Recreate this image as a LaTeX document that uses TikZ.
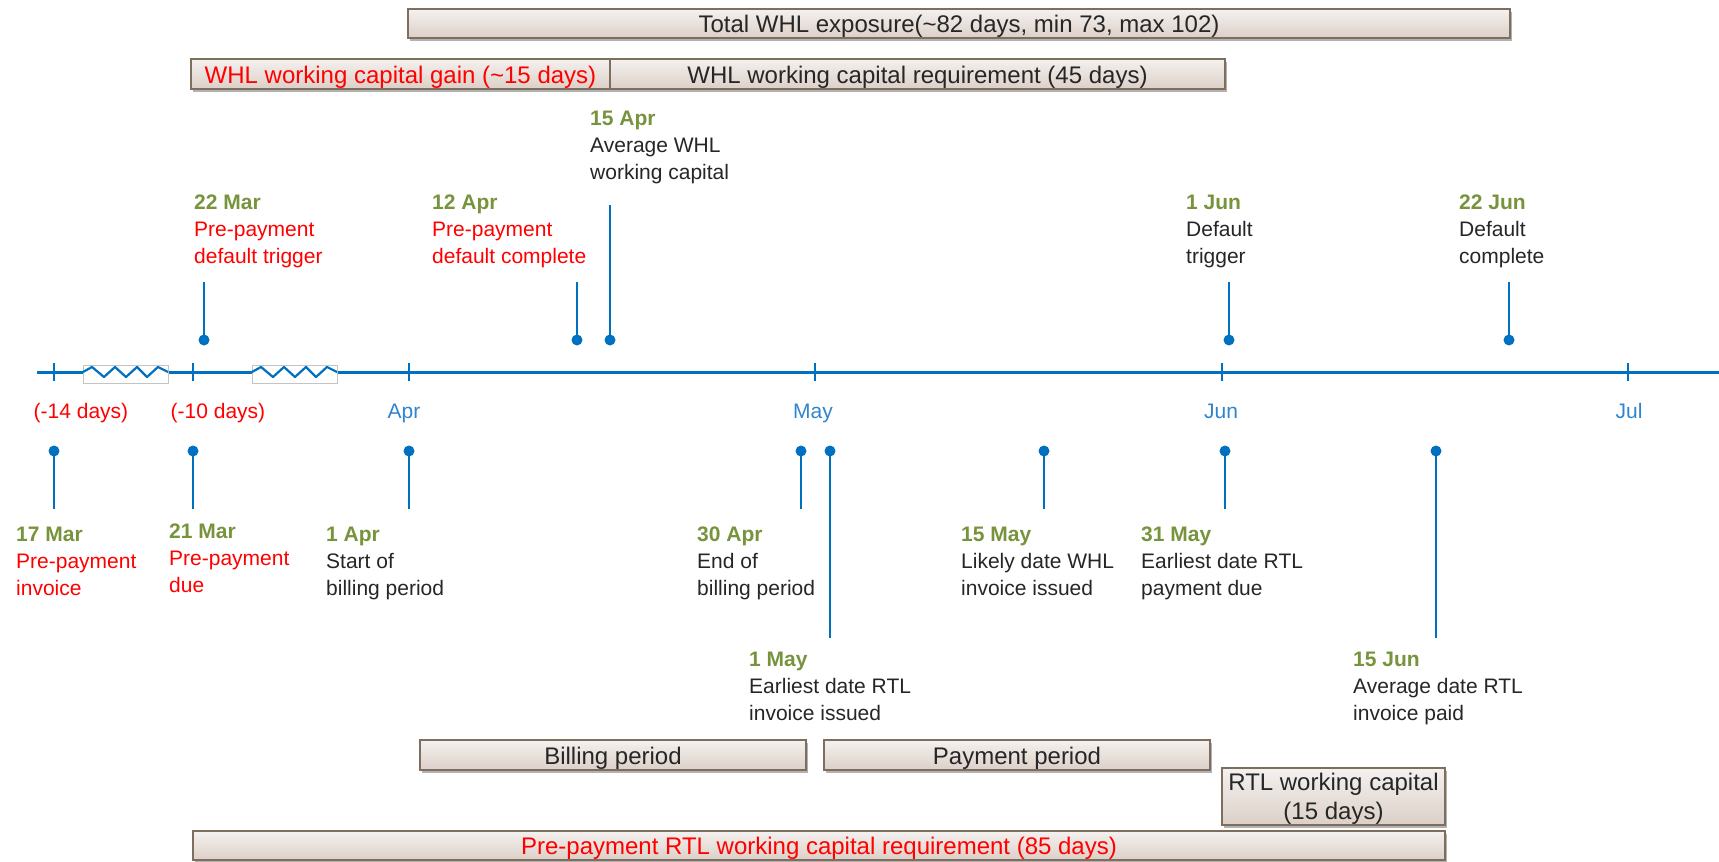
\documentclass[tikz,border=0pt]{standalone}
\usepackage{fontspec}
\setmainfont{Liberation Sans}
\usetikzlibrary{shadows}
\definecolor{axisblue}{HTML}{0070C0}
\definecolor{lblblue}{HTML}{2F85CC}
\definecolor{dgreen}{HTML}{77933C}
\definecolor{redtxt}{HTML}{FF0000}
\definecolor{txt}{HTML}{262626}
\definecolor{barline}{HTML}{7E6E5E}
\definecolor{bartop}{HTML}{F4F1EF}
\definecolor{barbot}{HTML}{DCD0C8}
\definecolor{brkgray}{HTML}{C4C4C4}
\newcommand\mydate[1]{{\color{dgreen}\bfseries #1}}
\begin{document}
\begin{tikzpicture}[x=1pt, y=-1pt,
  bar/.style={draw=barline, line width=2pt, top color=bartop, bottom color=barbot,
    inner sep=0pt, font=\fontsize{24}{29}\selectfont, text=txt,
    drop shadow={shadow xshift=2pt, shadow yshift=-3pt, fill=black, opacity=0.3}},
  onebar/.style={bar, text height=23.5pt, text depth=5pt},
  dot/.style={circle, fill=axisblue, inner sep=0pt, minimum size=11pt},
  stem/.style={draw=axisblue, line width=2.5pt},
  axisline/.style={draw=axisblue, line width=3pt},
  tickmark/.style={draw=axisblue, line width=2.5pt},
  lbl/.style={anchor=north west, inner sep=0pt, align=left, font=\fontsize{21}{27}\selectfont, text=txt},
  redlbl/.style={lbl, text=redtxt},
  axlbl/.style={anchor=base, inner sep=0pt, font=\fontsize{21}{25}\selectfont, text=lblblue},
  daylbl/.style={axlbl, text=redtxt},
  brk/.style={draw=brkgray, line width=0.8pt, fill=white},
  zig/.style={draw=axisblue, line width=2.2pt, line join=round}
]
\useasboundingbox (0,0) rectangle (1719,862);

% ---- top bars ----
\node[onebar, minimum width=1102pt, minimum height=29pt] (total) at (959,23.5) {Total WHL exposure(\textasciitilde82 days, min 73, max 102)};
\node[onebar, minimum width=419pt, minimum height=30pt, text=redtxt] (gain) at (400.5,74) {WHL working capital gain (\textasciitilde15 days)};
\node[onebar, minimum width=615pt, minimum height=30pt] (req) at (917.5,74) {WHL working capital requirement (45 days)};

% ---- axis ----
\coordinate (axL) at (37,372);
\coordinate (axR) at (1719,372);
\draw[axisline] (axL) -- (axR);
\foreach \x in {54,193,409,815,1222,1628}{
  \draw[tickmark] (\x,363) -- (\x,381);
}
% axis breaks
\foreach \a in {83,252}{
  \draw[brk] (\a,365) rectangle (\a+85,383);
  \draw[zig] (\a,372) -- (\a+9,367) -- (\a+21,377) -- (\a+32,367) -- (\a+43,377)
     -- (\a+54,367) -- (\a+64,377) -- (\a+75,367) -- (\a+85,372);
}
\node[daylbl] (m14) at (81,418) {(-14 days)};
\node[daylbl] (m10) at (218,418) {(-10 days)};
\node[axlbl] (apr) at (404,418) {Apr};
\node[axlbl] (may) at (813,418) {May};
\node[axlbl] (jun) at (1221,418) {Jun};
\node[axlbl] (jul) at (1629,418) {Jul};

% ---- upper markers ----
\node[dot] (d22mar) at (204,340) {};
\coordinate (t22mar) at (204,282);
\draw[stem] (d22mar.center) -- (t22mar);
\node[redlbl] (l22mar) at (194,195) {\mydate{22 Mar}\\Pre-payment\\default trigger};

\node[dot] (d12apr) at (577,340) {};
\coordinate (t12apr) at (577,282);
\draw[stem] (d12apr.center) -- (t12apr);
\node[redlbl] (l12apr) at (432,195) {\mydate{12 Apr}\\Pre-payment\\default complete};

\node[dot] (d15apr) at (610,340) {};
\coordinate (t15apr) at (610,205);
\draw[stem] (d15apr.center) -- (t15apr);
\node[lbl] (l15apr) at (590,111) {\mydate{15 Apr}\\Average WHL\\working capital};

\node[dot] (d1jun) at (1229,340) {};
\coordinate (t1jun) at (1229,282);
\draw[stem] (d1jun.center) -- (t1jun);
\node[lbl] (l1jun) at (1186,195) {\mydate{1 Jun}\\Default\\trigger};

\node[dot] (d22jun) at (1509,340) {};
\coordinate (t22jun) at (1509,282);
\draw[stem] (d22jun.center) -- (t22jun);
\node[lbl] (l22jun) at (1459,195) {\mydate{22 Jun}\\Default\\complete};

% ---- lower markers ----
\node[dot] (d17mar) at (54,451) {};
\coordinate (b17mar) at (54,509);
\draw[stem] (d17mar.center) -- (b17mar);
\node[redlbl] (l17mar) at (16,527) {\mydate{17 Mar}\\Pre-payment\\invoice};

\node[dot] (d21mar) at (193,451) {};
\coordinate (b21mar) at (193,509);
\draw[stem] (d21mar.center) -- (b21mar);
\node[redlbl] (l21mar) at (169,524) {\mydate{21 Mar}\\Pre-payment\\due};

\node[dot] (d1apr) at (409,451) {};
\coordinate (b1apr) at (409,509);
\draw[stem] (d1apr.center) -- (b1apr);
\node[lbl] (l1apr) at (326,527) {\mydate{1 Apr}\\Start of\\billing period};

\node[dot] (d30apr) at (801,451) {};
\coordinate (b30apr) at (801,509);
\draw[stem] (d30apr.center) -- (b30apr);
\node[lbl] (l30apr) at (697,527) {\mydate{30 Apr}\\End of\\billing period};

\node[dot] (d1may) at (830,451) {};
\coordinate (b1may) at (830,638);
\draw[stem] (d1may.center) -- (b1may);
\node[lbl] (l1may) at (749,652) {\mydate{1 May}\\Earliest date RTL\\invoice issued};

\node[dot] (d15may) at (1044,451) {};
\coordinate (b15may) at (1044,509);
\draw[stem] (d15may.center) -- (b15may);
\node[lbl] (l15may) at (961,527) {\mydate{15 May}\\Likely date WHL\\invoice issued};

\node[dot] (d31may) at (1225,451) {};
\coordinate (b31may) at (1225,509);
\draw[stem] (d31may.center) -- (b31may);
\node[lbl] (l31may) at (1141,527) {\mydate{31 May}\\Earliest date RTL\\payment due};

\node[dot] (d15jun) at (1436,451) {};
\coordinate (b15jun) at (1436,638);
\draw[stem] (d15jun.center) -- (b15jun);
\node[lbl] (l15jun) at (1353,652) {\mydate{15 Jun}\\Average date RTL\\invoice paid};

% ---- bottom bars ----
\node[onebar, minimum width=386pt, minimum height=30pt] (billing) at (613,755) {Billing period};
\node[onebar, minimum width=386pt, minimum height=30pt] (payment) at (1017,755) {Payment period};
\node[bar, minimum width=223pt, minimum height=57pt, align=center, text depth=0pt] (rtlwc) at (1333.5,796) {RTL working capital\\(15 days)};
\node[onebar, minimum width=1252pt, minimum height=29pt, text=redtxt] (prertl) at (819,845.5) {Pre-payment RTL working capital requirement (85 days)};
\end{tikzpicture}
\end{document}
